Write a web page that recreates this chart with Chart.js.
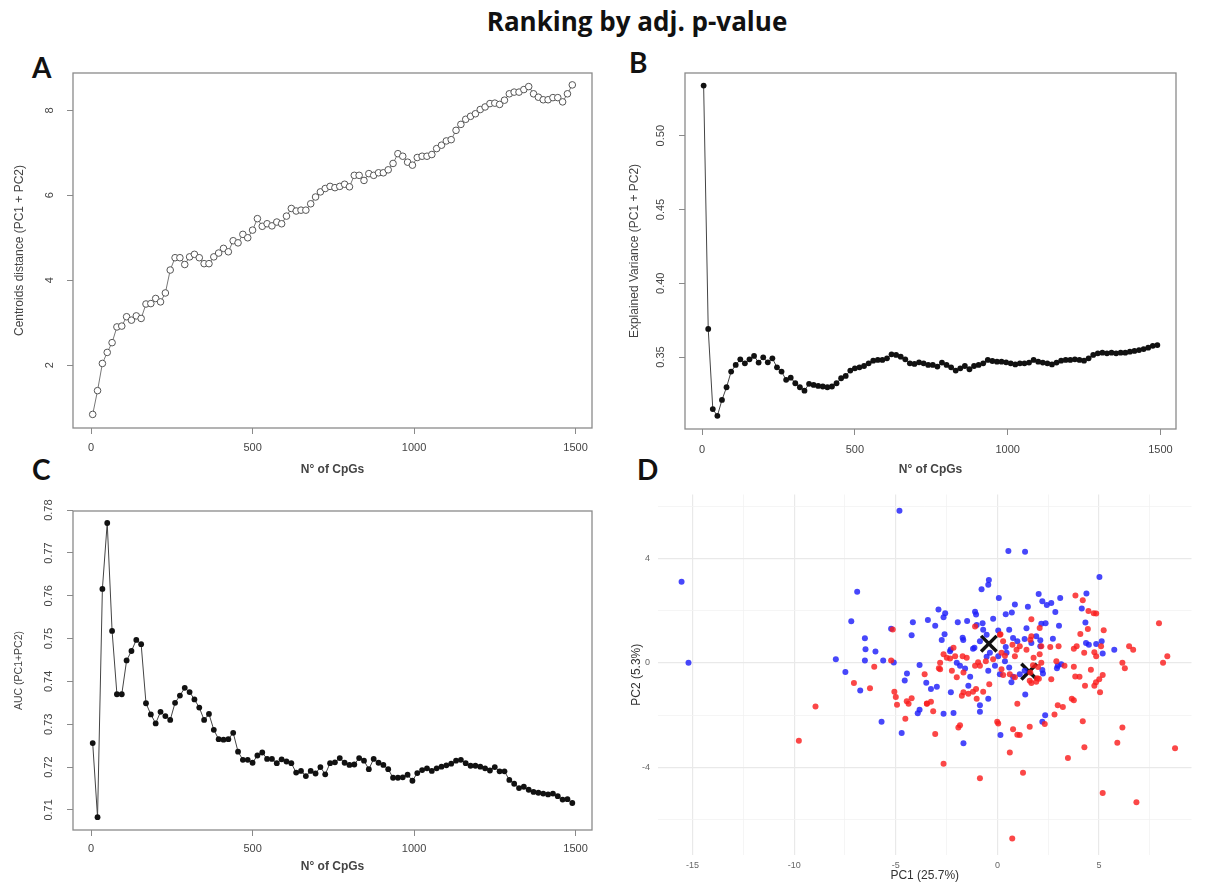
<!DOCTYPE html>
<html><head><meta charset="utf-8">
<script src="https://cdn.jsdelivr.net/npm/chart.js@4.4.1/dist/chart.umd.min.js"></script>
<style>
html,body{margin:0;padding:0;background:#fff;}
body{width:1206px;height:884px;position:relative;overflow:hidden;}
canvas{position:absolute;}
#title{position:absolute;left:34px;width:1206px;top:5px;text-align:center;font:bold 26px 'Open Sans',Lato,sans-serif;color:#111;line-height:32px;}
.lab{position:absolute;font:bold 28px Lato,sans-serif;color:#111;line-height:28px;}
</style></head><body>
<div id="title">Ranking by adj. p-value</div>
<div class="lab" style="left:32px;top:53px">A</div>
<div class="lab" style="left:629px;top:48px">B</div>
<div class="lab" style="left:32px;top:455px">C</div>
<div class="lab" style="left:637px;top:455px">D</div>
<canvas id="cA" width="600" height="420" style="left:0;top:60px"></canvas>
<canvas id="cB" width="606" height="420" style="left:600px;top:60px"></canvas>
<canvas id="cC" width="600" height="404" style="left:0;top:480px"></canvas>
<canvas id="cD" width="606" height="404" style="left:600px;top:480px"></canvas>
<script>
// ---------- data ----------
const nCpGs = [5,20,35,50,65,80,95,110,125,140,155,170,185,200,215,230,245,260,275,290,
305,320,335,350,365,380,395,410,425,440,455,470,485,500,515,530,545,560,575,590,
605,620,635,650,665,680,695,710,725,740,755,770,785,800,815,830,845,860,875,890,
905,920,935,950,965,980,995,1010,1025,1040,1055,1070,1085,1100,1115,1130,1145,1160,1175,1190,
1205,1220,1235,1250,1265,1280,1295,1310,1325,1340,1355,1370,1385,1400,1415,1430,1445,1460,1475,1490];

const centroidsDistance = [0.84,1.40,2.04,2.30,2.53,2.90,2.92,3.14,3.06,3.16,
3.10,3.44,3.45,3.57,3.49,3.70,4.24,4.53,4.53,4.37,
4.55,4.61,4.53,4.39,4.39,4.55,4.64,4.75,4.67,4.93,
4.88,5.08,5.00,5.18,5.45,5.27,5.33,5.28,5.37,5.33,
5.51,5.69,5.63,5.65,5.65,5.80,5.96,6.08,6.16,6.21,
6.18,6.21,6.26,6.20,6.47,6.47,6.35,6.51,6.47,6.53,
6.53,6.60,6.75,6.98,6.92,6.78,6.71,6.89,6.92,6.92,
6.96,7.10,7.18,7.28,7.31,7.53,7.67,7.79,7.86,7.92,
8.02,8.08,8.16,8.17,8.14,8.24,8.39,8.43,8.43,8.49,
8.56,8.39,8.31,8.25,8.25,8.30,8.30,8.20,8.39,8.60];

const explainedVariance = [0.534,0.369,0.3147,0.3101,0.3209,0.3295,0.3401,0.3446,0.3484,0.3457,
0.3484,0.3507,0.3462,0.3498,0.3464,0.3491,0.3430,0.3401,0.3345,0.3360,
0.3322,0.3295,0.3272,0.3318,0.3311,0.3304,0.3300,0.3295,0.3300,0.3322,
0.3356,0.3372,0.3408,0.3423,0.3430,0.3439,0.3457,0.3475,0.3480,0.3480,
0.3491,0.3518,0.3514,0.3502,0.3484,0.3457,0.3453,0.3464,0.3457,0.3446,
0.3446,0.3435,0.3462,0.3446,0.3430,0.3408,0.3423,0.3439,0.3417,0.3439,
0.3446,0.3457,0.3480,0.3473,0.3468,0.3468,0.3464,0.3457,0.3450,0.3457,
0.3457,0.3462,0.3480,0.3468,0.3462,0.3457,0.3450,0.3462,0.3475,0.3480,
0.3480,0.3484,0.3480,0.3475,0.3491,0.3514,0.3525,0.3529,0.3525,0.3529,
0.3525,0.3529,0.3529,0.3536,0.3541,0.3547,0.3554,0.3563,0.3576,0.3581];

const aucValues = [0.7256,0.7083,0.7616,0.7770,0.7518,0.7370,0.7370,0.7449,0.7471,0.7497,
0.7487,0.7349,0.7323,0.7302,0.7329,0.7319,0.7310,0.7350,0.7367,0.7385,
0.7375,0.7358,0.7339,0.7310,0.7324,0.7287,0.7265,0.7264,0.7265,0.7280,
0.7236,0.7217,0.7217,0.7210,0.7227,0.7234,0.7219,0.7219,0.7209,0.7218,
0.7213,0.7209,0.7187,0.7191,0.7179,0.7191,0.7185,0.7200,0.7183,0.7209,
0.7211,0.7221,0.7210,0.7205,0.7206,0.7221,0.7215,0.7195,0.7219,0.7210,
0.7205,0.7195,0.7175,0.7175,0.7176,0.7182,0.7168,0.7186,0.7193,0.7197,
0.7191,0.7197,0.7201,0.7204,0.7208,0.7215,0.7217,0.7209,0.7203,0.7203,
0.7201,0.7197,0.7192,0.7200,0.7190,0.7190,0.7170,0.7161,0.7151,0.7154,
0.7147,0.7142,0.7140,0.7138,0.7136,0.7138,0.7132,0.7124,0.7125,0.7116];

const cpgTicks = [0,500,1000,1500];
const ticksA = [2,4,6,8];
const ticksB = [0.35,0.40,0.45,0.50];
const ticksC = [0.71,0.72,0.73,0.74,0.75,0.76,0.77,0.78];

const blueX = [-4.82,-15.54,-15.2,-6.9,-7.19,-4.16,-3.42,-5.23,-4.22,-6.52,-6.49,-6.0,-6.52,-5.62,-5.1,-7.95,-7.48,-6.75,-3.83,-4.45,-4.56,-3.5,-3.83,-5.7,-4.71,
0.54,1.36,5.02,-0.42,-0.45,-0.78,0.07,2.03,2.21,2.43,2.65,3.09,4.38,4.15,0.86,1.5,2.85,3.03,4.33,0.41,0.71,-3.06,-2.9,-2.57,-2.65,-1.95,-1.49,-1.1,-1.05,-0.73,-0.21,-1.02,0.04,0.58,1.43,2.16,2.37,2.73,2.11,
-2.60,-2.74,-1.68,-1.71,-2.33,-2.30,-1.2,-0.37,0.41,0.77,0.98,1.34,1.67,1.91,2.11,-0.53,0.37,0.58,-0.12,0.12,-1.84,-1.59,-1.34,-1.43,-2.29,-2.98,-3.27,-0.45,-0.45,-0.86,-0.86,-2.65,-2.16,-1.67,0.15,1.37,
0.77,1.1,1.34,2.21,2.24,2.97,2.93,3.14,2.35,2.21,4.5,5.18,5.75,5.13,4.86,4.36,-0.86,-1.13,-2.0,0.69,0.04,0.45,-0.70,-0.53,-3.92];
const blueY = [5.83,3.11,0.01,2.73,1.60,1.56,1.65,1.31,1.06,0.95,0.53,0.44,0.10,0.10,0.02,0.14,-0.34,-1.05,-0.08,-0.40,-0.67,-0.76,-1.79,-2.25,-2.68,
4.29,4.26,3.29,3.18,3.0,2.82,2.49,2.64,2.36,2.22,2.30,2.49,2.66,2.09,2.24,2.15,1.95,1.43,1.55,1.87,1.93,1.43,2.05,1.9,1.75,1.56,1.61,1.96,1.86,1.52,1.69,1.45,1.24,1.27,1.33,1.50,1.52,0.93,0.87,
1.10,0.88,0.88,0.97,0.45,0.52,0.55,0.39,0.61,0.96,0.83,0.92,0.77,1.02,0.64,0.24,0.07,-0.17,-0.11,-0.43,-0.11,-0.21,-0.53,-0.87,-1.12,-0.91,-1.0,-0.30,-1.37,-1.62,-1.87,-1.94,-1.91,-3.07,-2.76,-1.21,
-0.53,-0.43,-0.30,-0.27,-0.40,-0.11,-0.20,-0.05,-2.0,-2.25,0.70,0.36,0.51,0.83,0.73,0.77,0.83,0.58,0.01,-0.74,0.26,0.39,1.27,1.08,-1.92];

const redX = [-5.15,-5.23,-6.06,-7.06,-6.27,-5.07,-5.0,-4.94,-4.46,-4.37,-4.22,-4.53,-8.95,-9.77,-3.58,-3.47,-2.88,-3.16,
3.84,4.2,4.48,4.86,7.95,5.23,4.45,4.08,1.67,2.08,0.15,-1.1,1.67,1.62,2.16,2.60,3.01,3.9,3.76,4.27,4.77,4.86,5.10,6.48,6.68,8.36,8.15,6.15,6.27,5.18,5.01,4.85,5.05,4.77,4.31,4.6,4.04,3.83,3.76,3.3,2.90,2.65,2.04,1.91,1.67,1.62,1.78,2.08,1.43,1.1,0.94,0.74,0.28,0.12,0.86,0.37,0.2,-0.21,-0.57,-0.95,-1.1,-1.51,-1.71,-2.16,-2.08,-2.49,-2.82,-2.24,-1.67,-2.0,-1.67,-1.75,-1.43,-1.2,-1.05,-1.02,-0.70,-0.40,0.2,0.28,0.61,0.86,1.59,1.95,
0.98,0.04,-0.01,0.77,1.1,1.59,2.33,2.81,2.97,3.22,3.66,3.76,4.2,4.28,3.47,6.15,5.9,8.74,5.18,6.84,0.73,1.26,-0.86,0.61,-2.65,-3.06,-1.92,-1.84,-3.47,-3.27,-2.82,-2.65,-2.33,-0.86,1.75,2.0,2.16,4.74,0.98];
const redY = [1.28,0.10,-0.14,-0.77,-0.97,-1.10,-1.30,-1.60,-1.46,-1.56,-1.35,-2.13,-1.67,-2.98,-0.43,-1.56,-0.20,-1.85,
2.58,2.40,1.99,1.89,1.52,1.25,1.30,1.11,1.67,1.34,1.10,1.40,1.02,0.89,0.64,0.61,0.64,0.64,0.55,0.39,0.41,0.26,0.64,0.64,0.51,0.26,0.01,0.01,-0.20,-0.46,-0.62,-0.74,-1.12,-0.87,-0.87,-0.26,-0.53,-0.52,-0.14,-0.11,0.07,-0.62,-0.60,-0.72,-0.77,-0.36,0.2,0.33,0.51,0.64,0.51,0.70,0.83,1.08,0.26,0.28,0.39,0.14,0.07,0.03,-0.11,0.20,0.26,0.58,0.26,0.20,-0.24,-0.30,-0.36,-0.55,-1.12,-1.25,-1.18,-1.10,-1.0,-1.37,-1.10,-0.81,-0.24,-0.46,-0.43,-0.55,-0.68,-0.58,
-1.56,-2.32,-2.25,-2.54,-2.76,-2.44,-2.34,-1.97,-1.62,-1.68,-1.37,-1.43,-2.23,-3.23,-3.64,-2.47,-3.05,-3.26,-4.98,-5.33,-6.72,-4.2,-4.41,-3.43,-3.86,-2.72,-2.47,-2.38,-1.55,-1.48,0.01,0.33,0.17,-0.11,-0.09,-0.15,0.01,1.9,-2.75];

const centroidX = [-0.42, 1.56];
const centroidY = [0.74, -0.33];

const pcTicksX = [-15,-12.5,-10,-7.5,-5,-2.5,0,2.5,5,7.5];
const pcTicksY = [-6,-4,-2,0,2,4,6];

// ---------- helpers ----------
const FONT = "'Liberation Sans', Arial, sans-serif";
const pts = (xs, ys) => xs.map((x, i) => ({x: x, y: ys[i]}));

const boxPlugin = {
  id: 'rbox',
  afterDatasetsDraw(chart) {
    const {ctx, chartArea: a} = chart;
    ctx.save();
    ctx.strokeStyle = '#8a8a8a';
    ctx.lineWidth = 1.3;
    ctx.strokeRect(a.left, a.top, a.right - a.left, a.bottom - a.top);
    ctx.restore();
  }
};

function fixY(w) {
  return s => { s.width = w; s.paddingTop = 0; s.paddingBottom = 0; };
}

function rPanel(id, ys, cfg) {
  return new Chart(document.getElementById(id), {
    type: 'scatter',
    data: {datasets: [{
      data: pts(nCpGs, ys),
      showLine: true,
      borderColor: cfg.lineColor,
      borderWidth: 1,
      pointRadius: cfg.pointRadius,
      pointBorderWidth: cfg.pointBorderWidth,
      pointBackgroundColor: cfg.pointBg,
      pointBorderColor: cfg.pointBorder
    }]},
    options: {
      responsive: false, animation: false, events: [],
      layout: {padding: {top: cfg.padTop, right: cfg.padRight, left: 0, bottom: 0}},
      plugins: {legend: {display: false}, tooltip: {enabled: false}},
      scales: {
        x: {
          type: 'linear', min: -56, max: 1551,
          afterBuildTicks: s => { s.ticks = cpgTicks.map(v => ({value: v})); },
          afterFit: s => { s.height = cfg.xH; },
          grid: {drawOnChartArea: false, drawTicks: true, tickLength: 6, color: '#8a8a8a', lineWidth: 1},
          border: {display: false},
          ticks: {font: {size: 11, family: FONT}, color: '#444', padding: cfg.xTickPad, maxRotation: 0, autoSkip: false,
                  callback: v => String(v)},
          title: {display: true, text: 'N° of CpGs', color: '#444',
                  font: {size: 12, family: FONT, weight: 'bold'}, padding: {top: 0, bottom: cfg.xTitlePad}}
        },
        y: {
          type: 'linear', min: cfg.yMin, max: cfg.yMax,
          afterBuildTicks: s => { s.ticks = cfg.yTicks.map(v => ({value: v})); },
          afterFit: fixY(cfg.yW),
          grid: {drawOnChartArea: false, drawTicks: true, tickLength: 6, color: '#8a8a8a', lineWidth: 1},
          border: {display: false},
          ticks: {font: {size: 11, family: FONT}, color: '#444', padding: cfg.yTickPad, autoSkip: false,
                  minRotation: 90, maxRotation: 90, crossAlign: 'center',
                  callback: v => cfg.fmt(v)},
          title: {display: true, text: cfg.yTitle, color: '#444',
                  font: {size: cfg.yTitleSize, family: FONT}, padding: {top: cfg.yTitlePad, bottom: 0}}
        }
      }
    },
    plugins: [boxPlugin]
  });
}

// Panel A
rPanel('cA', centroidsDistance, {
  lineColor: '#777', pointRadius: 3.3, pointBorderWidth: 1, pointBg: '#fff', pointBorder: '#555',
  padTop: 13, padRight: 8, xH: 52, yW: 73, xTickPad: 7, xTitlePad: 3, yTickPad: 14, yTitlePad: 12,
  yMin: 0.52, yMax: 8.88, yTicks: ticksA, fmt: v => String(v),
  yTitle: 'Centroids distance (PC1 + PC2)', yTitleSize: 12
});
// Panel B
rPanel('cB', explainedVariance, {
  lineColor: '#444', pointRadius: 2.9, pointBorderWidth: 0, pointBg: '#111', pointBorder: '#111',
  padTop: 13, padRight: 30, xH: 51, yW: 85, xTickPad: 8, xTitlePad: 3, yTickPad: 7, yTitlePad: 27,
  yMin: 0.3012, yMax: 0.5425, yTicks: ticksB, fmt: v => v.toFixed(2),
  yTitle: 'Explained Variance (PC1 + PC2)', yTitleSize: 12
});
// Panel C
rPanel('cC', aucValues, {
  lineColor: '#444', pointRadius: 2.9, pointBorderWidth: 0, pointBg: '#111', pointBorder: '#111',
  padTop: 31, padRight: 8, xH: 54, yW: 73, xTickPad: 6, xTitlePad: 10, yTickPad: 7, yTitlePad: 13,
  yMin: 0.7053, yMax: 0.7798, yTicks: ticksC, fmt: v => v.toFixed(2),
  yTitle: 'AUC (PC1+PC2)', yTitleSize: 10.5
});

// Panel D
new Chart(document.getElementById('cD'), {
  type: 'scatter',
  data: {datasets: [
    {data: pts(redX, redY), pointRadius: 3, pointBorderWidth: 0, pointBackgroundColor: 'rgba(250,30,30,0.82)'},
    {data: pts(blueX, blueY), pointRadius: 3, pointBorderWidth: 0, pointBackgroundColor: 'rgba(30,30,250,0.82)'},
    {data: pts(centroidX, centroidY), pointStyle: 'crossRot', pointRadius: 11, pointBorderWidth: 3.5, pointBorderColor: '#111'}
  ]},
  options: {
    responsive: false, animation: false, events: [],
    layout: {padding: {top: 9, right: 12, left: 0, bottom: 0}},
    plugins: {legend: {display: false}, tooltip: {enabled: false}},
    scales: {
      x: {
        type: 'linear', min: -16.7, max: 9.55,
        afterBuildTicks: s => { s.ticks = pcTicksX.map(v => ({value: v})); },
        afterFit: s => { s.height = 29; },
        grid: {drawTicks: false, color: c => (c.tick && c.tick.value % 5 === 0) ? '#e9e9e9' : '#f3f3f3',
               lineWidth: c => (c.tick && c.tick.value % 5 === 0) ? 1.2 : 0.8},
        border: {display: false},
        ticks: {font: {size: 9, family: FONT}, color: '#666', padding: 5, maxRotation: 0, autoSkip: false,
                callback: v => (v % 5 === 0 ? String(v) : '')},
        title: {display: true, text: 'PC1 (25.7%)', color: '#333', font: {size: 12, family: FONT}, padding: {top: 0, bottom: 1}}
      },
      y: {
        type: 'linear', min: -7.35, max: 6.45,
        afterBuildTicks: s => { s.ticks = pcTicksY.map(v => ({value: v})); },
        afterFit: fixY(58),
        grid: {drawTicks: false, color: c => (c.tick && c.tick.value % 4 === 0) ? '#e9e9e9' : '#f3f3f3',
               lineWidth: c => (c.tick && c.tick.value % 4 === 0) ? 1.2 : 0.8},
        border: {display: false},
        ticks: {font: {size: 9, family: FONT}, color: '#666', padding: 8, autoSkip: false,
                callback: v => (v % 4 === 0 ? String(v) : '')},
        title: {display: true, text: 'PC2 (5.3%)', color: '#333', font: {size: 12, family: FONT}, padding: {top: 29, bottom: 0}}
      }
    }
  }
});
</script>
</body></html>
